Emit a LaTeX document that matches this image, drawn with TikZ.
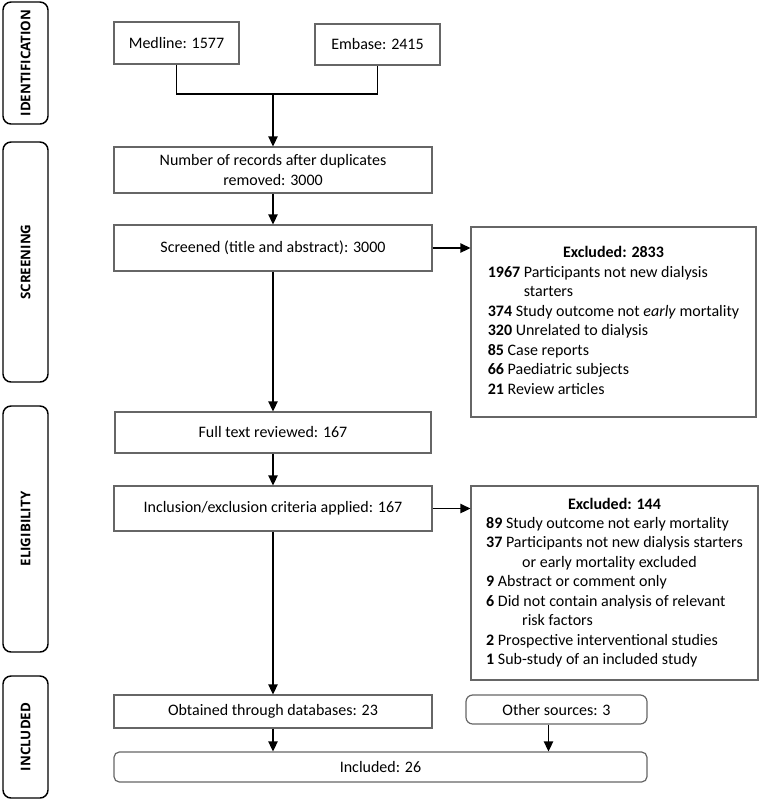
\documentclass[tikz,border=0pt]{standalone}
\usepackage{fontspec}
\setmainfont{Carlito}
\newfontfamily\stagefont{Open Sans}
\usetikzlibrary{arrows.meta}
\begin{document}
\begin{tikzpicture}[x=0.75pt,y=-0.75pt,
  font=\fontsize{12}{14.6}\selectfont,
  box/.style={draw=black!60, line width=0.9pt, inner sep=0pt, align=center},
  stage/.style={draw=black, line width=1.1pt, rounded corners=6pt, rotate=90,
    minimum height={45*0.75pt}, inner sep=0pt,
    font=\stagefont\bfseries\fontsize{10}{12}\selectfont},
  conn/.style={line width=1.2pt},
  arr/.style={line width=1.2pt, -{Triangle[length=7.5pt,width=7pt]}}]
\useasboundingbox (0,0) rectangle (765,801);

% stage labels
\node[stage, minimum width={122*0.75pt}] (sid) at (25.5,63) {IDENTIFICATION};
\node[stage, minimum width={240*0.75pt}] (ssc) at (25.5,262) {SCREENING};
\node[stage, minimum width={246*0.75pt}] (sel) at (25.5,529) {ELIGIBILITY};
\node[stage, minimum width={122*0.75pt}] (sin) at (25.5,737) {INCLUDED};

% boxes
\node[box, minimum width={125*0.75pt}, minimum height={42*0.75pt}] (medline) at (176.5,43) {Medline: 1577};
\node[box, minimum width={125*0.75pt}, minimum height={41*0.75pt}] (embase) at (377.5,44.5) {Embase: 2415};
\node[box, minimum width={318*0.75pt}, minimum height={46*0.75pt}] (records) at (273,170) {Number of records after duplicates\\removed: 3000};
\node[box, minimum width={318*0.75pt}, minimum height={46*0.75pt}] (screened) at (273,248) {Screened (title and abstract): 3000};
\node[box, minimum width={285*0.75pt}, minimum height={190*0.75pt}] (excl1) at (613.5,322) {\begin{tabular}{@{}l@{}}
\multicolumn{1}{@{}c@{}}{\textbf{Excluded: 2833}}\\
\textbf{1967} Participants not new dialysis\\
\hspace*{27pt}starters\\
\textbf{374} Study outcome not \textit{early} mortality\\
\textbf{320} Unrelated to dialysis\\
\textbf{85} Case reports\\
\textbf{66} Paediatric subjects\\
\textbf{21} Review articles
\end{tabular}};
\node[box, minimum width={316*0.75pt}, minimum height={41*0.75pt}] (fulltext) at (273,432.5) {Full text reviewed: 167};
\node[box, minimum width={318*0.75pt}, minimum height={45*0.75pt}] (inclusion) at (273,508.5) {Inclusion/exclusion criteria applied: 167};
\node[box, minimum width={287*0.75pt}, minimum height={194*0.75pt}] (excl2) at (614.5,583) {\begin{tabular}{@{}l@{}}
\multicolumn{1}{@{}c@{}}{\textbf{Excluded: 144}}\\
\textbf{89} Study outcome not early mortality\\
\textbf{37} Participants not new dialysis starters\\
\hspace*{27pt}or early mortality excluded\\
\textbf{9} Abstract or comment only\\
\textbf{6} Did not contain analysis of relevant\\
\hspace*{27pt}risk factors\\
\textbf{2} Prospective interventional studies\\
\textbf{1} Sub-study of an included study
\end{tabular}};
\node[box, minimum width={318*0.75pt}, minimum height={33*0.75pt}] (obtained) at (273,711.5) {Obtained through databases: 23};
\node[box, rounded corners=5pt, minimum width={181*0.75pt}, minimum height={29*0.75pt}] (other) at (556.5,709.5) {Other sources: 3};
\node[box, rounded corners=4pt, minimum width={533*0.75pt}, minimum height={30*0.75pt}] (included) at (380.5,767) {Included: 26};

% connectors
\coordinate (join) at (273,94);
\draw[conn] (medline.south) |- (join) -| (embase.south);
\draw[arr] (join) -- (records.north);
\draw[arr] (records.south) -- (records.south |- screened.north);
\draw[arr] (screened.east) -- (screened.east -| excl1.west);
\draw[arr] (screened.south) -- (screened.south |- fulltext.north);
\draw[arr] (fulltext.south) -- (fulltext.south |- inclusion.north);
\draw[arr] (inclusion.east) -- (inclusion.east -| excl2.west);
\draw[arr] (inclusion.south) -- (inclusion.south |- obtained.north);
\draw[arr] (obtained.south) -- (obtained.south |- included.north);
\draw[arr] ([xshift=-6pt]other.south) -- ([xshift=-6pt]other.south |- included.north);
\end{tikzpicture}
\end{document}
